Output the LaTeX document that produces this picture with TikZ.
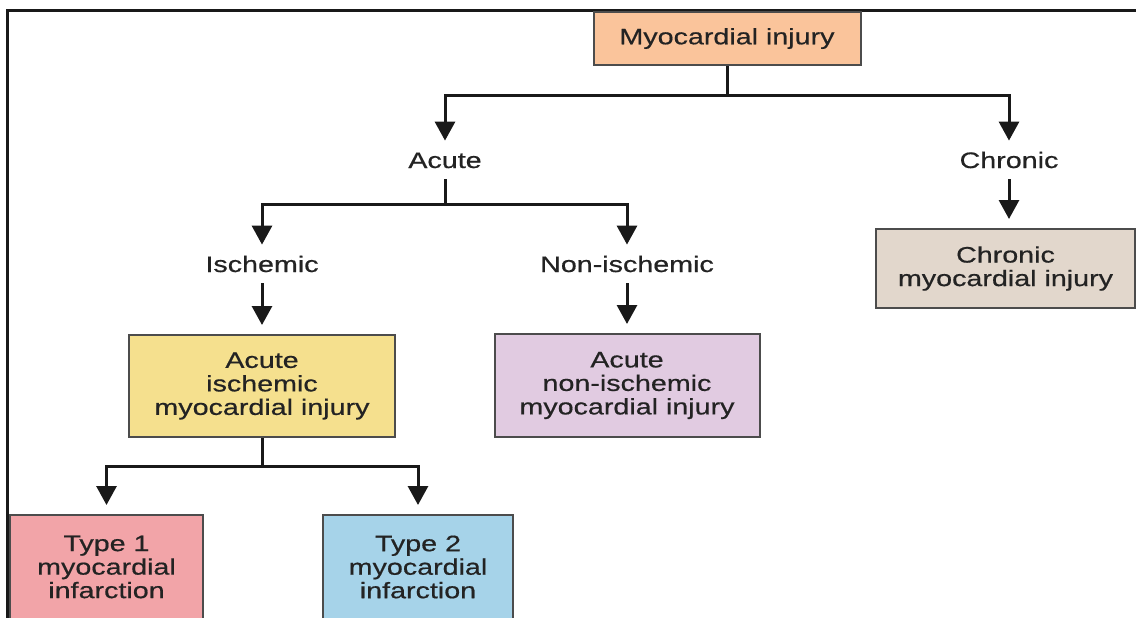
\documentclass[tikz,border=0pt]{standalone}
\usepackage{fontspec}
\setmainfont{Liberation Sans}
\newfontfamily\widesans[FakeStretch=1.28,FakeBold=0.6]{Liberation Sans}
\usetikzlibrary{arrows.meta}

\definecolor{peach}{RGB}{250,196,155}
\definecolor{taupe}{RGB}{226,215,204}
\definecolor{sand}{RGB}{245,224,142}
\definecolor{lilac}{RGB}{225,203,225}
\definecolor{rose}{RGB}{242,164,168}
\definecolor{sky}{RGB}{166,211,233}
\definecolor{ink}{RGB}{35,35,35}

\tikzset{
	txt/.style={font=\widesans\fontsize{11.2pt}{11.75pt}\selectfont, text=ink, align=center},
	lbl/.style={txt, inner xsep=3pt, inner ysep=5.5pt, text height=8pt, text depth=0pt},
	box/.style={txt, draw=black!70, line width=1pt, inner sep=0pt},
	link/.style={line width=1.5pt, color=black!90},
	arr/.style={link, -{Triangle[width=10pt,length=9.5pt]}},
	arrbox/.style={arr, shorten >=4.5pt}
}

\begin{document}
\begin{tikzpicture}[x=0.5pt, y=-0.5pt]
		%%%%% START %%%%%
		\useasboundingbox (0, 0) rectangle (1136, 617);
		\clip (0, 0) rectangle (1136, 617);
		
		\draw[line width=1.5pt, color=black!90] (7, 640) -- (7, 10) -- (1150, 10);
		
		\node[box, fill=peach, minimum width=133.5pt, minimum height=26.5pt] (injury) at (727, 38.5) {Myocardial injury};
		
		\node[lbl] (acute) at (445, 160) {Acute};
		\node[lbl] (chronic) at (1009, 160) {Chronic};
		\node[lbl] (isch) at (262, 264) {Ischemic};
		\node[lbl] (nonisch) at (627, 264) {Non-ischemic};
		
		\node[box, fill=taupe, minimum width=129.5pt, minimum height=39.5pt] (cmi) at (1005.5, 268.5) {Chronic\\myocardial injury};
		\node[box, fill=sand, minimum width=133pt, minimum height=51pt] (aimi) at (262, 386) {Acute\\ischemic\\myocardial injury};
		\node[box, fill=lilac, minimum width=132.5pt, minimum height=51.5pt] (anmi) at (627, 385.5) {Acute\\non-ischemic\\myocardial injury};
		\node[box, fill=rose, minimum width=96.5pt, minimum height=52pt] (type1) at (106.5, 567) {Type 1\\myocardial\\infarction};
		\node[box, fill=sky, minimum width=95pt, minimum height=52pt] (type2) at (418, 567) {Type 2\\myocardial\\infarction};
		
		\coordinate (j1) at (727, 95);
		\draw[link] (injury.south) -- (j1);
		\draw[arr] (j1) -| (acute.north);
		\draw[arr] (j1) -| (chronic.north);
		\draw[arrbox] (chronic.south) -- (chronic.south |- cmi.north);
		
		\coordinate (j2) at (445, 204);
		\draw[link] (acute.south) -- (j2);
		\draw[arr] (j2) -| (isch.north);
		\draw[arr] (j2) -| (nonisch.north);
		\draw[arrbox] (isch) -- (aimi);
		\draw[arrbox] (nonisch) -- (anmi);
		
		\coordinate (j3) at (262, 466);
		\draw[link] (aimi.south) -- (j3);
		\draw[arrbox] (j3) -| (type1.north);
		\draw[arrbox] (j3) -| (type2.north);
		
		%%%%% END %%%%%
	\end{tikzpicture}
\end{document}
